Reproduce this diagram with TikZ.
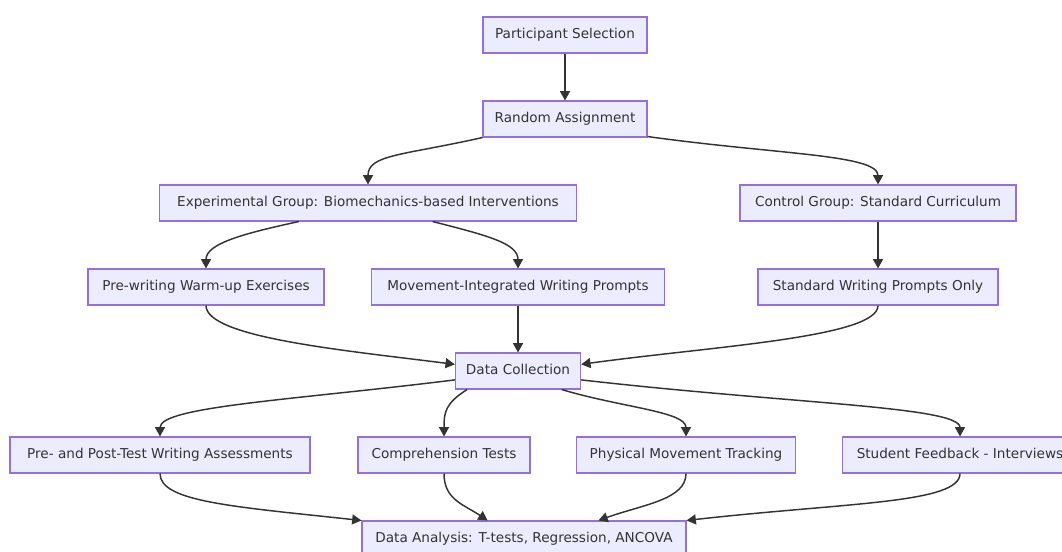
\documentclass[tikz,border=0pt]{standalone}
\usepackage{fontspec}
\setmainfont{DejaVu Sans}
\usepackage{xcolor}
\usetikzlibrary{arrows.meta}
\definecolor{boxfill}{HTML}{ECECFF}
\definecolor{boxline}{HTML}{9370DB}
\definecolor{ink}{HTML}{333333}
\begin{document}
\begin{tikzpicture}[
    x=0.75pt, y=0.75pt,
    box/.style={rectangle, draw=boxline, fill=boxfill, line width=0.8pt,
      minimum height=27pt, inner sep=0pt, text=ink, text height=7.6pt, text depth=2.2pt,
      font=\fontsize{10.2}{12}\selectfont},
    flow/.style={->, draw=ink, line width=1.1pt},
  ]
\tikzset{>={Triangle[length=7pt, width=7.5pt]}}
  \useasboundingbox (0,0) rectangle (1062,-552);

  \node[box, minimum width=123pt] (PS) at (565,-35)  {Participant Selection};
  \node[box, minimum width=123pt] (RA) at (565,-119) {Random Assignment};
  \node[box, minimum width=313pt] (EG) at (368,-203) {Experimental Group: Biomechanics-based Interventions};
  \node[box, minimum width=207pt] (CG) at (878,-203) {Control Group: Standard Curriculum};
  \node[box, minimum width=177pt] (PW) at (206,-287) {Pre-writing Warm-up Exercises};
  \node[box, minimum width=220pt] (MI) at (518,-287) {Movement-Integrated Writing Prompts};
  \node[box, minimum width=180pt] (SW) at (878,-287) {Standard Writing Prompts Only};
  \node[box, minimum width=94pt]  (DC) at (518,-371) {Data Collection};
  \node[box, minimum width=225pt] (PP) at (160,-455) {Pre- and Post-Test Writing Assessments};
  \node[box, minimum width=129pt] (CT) at (444,-455) {Comprehension Tests};
  \node[box, minimum width=164pt] (PM) at (686,-455) {Physical Movement Tracking};
  \node[box, minimum width=176pt] (SF) at (960,-455) {Student Feedback - Interviews};
  \node[box, minimum width=243pt] (DA) at (524,-539) {Data Analysis: T-tests, Regression, ANCOVA};

  \draw[flow] (PS) -- (RA);
  \draw[flow] (RA.south west) .. controls +(-80,-18) and +(0,30) .. (EG.north);
  \draw[flow] (RA.-12) .. controls +(130,-18) and +(0,30) .. (CG.north);
  \draw[flow] (EG.-165) .. controls +(-55,-12) and +(0,25) .. (PW.north);
  \draw[flow] (EG.-16) .. controls +(55,-14) and +(0,25) .. (MI.north);
  \draw[flow] (CG) -- (SW);
  \draw[flow] (PW.south) .. controls +(0,-32) and +(-110,14) .. (DC.174);
  \draw[flow] (MI) -- (DC);
  \draw[flow] (SW.south) .. controls +(0,-32) and +(130,18) .. (DC.6);
  \draw[flow] (DC.-172) .. controls +(-160,-20) and +(0,30) .. (PP.north);
  \draw[flow] (DC.-160) .. controls +(-22,-14) and +(0,24) .. (CT.north);
  \draw[flow] (DC.-23) .. controls +(60,-18) and +(0,25) .. (PM.north);
  \draw[flow] (DC.-8) .. controls +(210,-24) and +(0,30) .. (SF.north);
  \draw[flow] (PP.south) .. controls +(0,-28) and +(-130,14) .. (DA.north west);
  \draw[flow] (CT.south) .. controls +(0,-26) and +(-24,16) .. (DA.153);
  \draw[flow] (PM.south) .. controls +(0,-26) and +(45,16) .. (DA.14);
  \draw[flow] (SF.south) .. controls +(0,-30) and +(160,18) .. (DA.north east);

\end{tikzpicture}
\end{document}
